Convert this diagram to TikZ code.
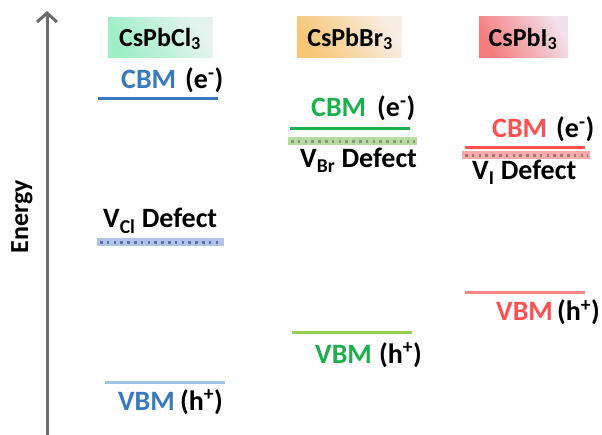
\documentclass[tikz,border=0pt]{standalone}
\usepackage{fontspec}
\setmainfont{Carlito}
\usetikzlibrary{arrows.meta}
\definecolor{axgray}{HTML}{6B6B6B}
\definecolor{bluec}{HTML}{3A78C0}
\definecolor{bluev}{HTML}{9DC3E6}
\definecolor{blueband}{HTML}{AFC4E8}
\definecolor{bluedot}{HTML}{5573B0}
\definecolor{greenc}{HTML}{1CB04C}
\definecolor{greenv}{HTML}{92D050}
\definecolor{greenband}{HTML}{B8D9A0}
\definecolor{greendot}{HTML}{7F9C78}
\definecolor{redc}{HTML}{FF4F4F}
\definecolor{redv}{HTML}{FF8585}
\definecolor{redband}{HTML}{F8ABAB}
\definecolor{reddot}{HTML}{A07878}
\definecolor{mintA}{HTML}{9EEFC6}
\definecolor{mintB}{HTML}{E6F4F0}
\definecolor{orA}{HTML}{F8C677}
\definecolor{orB}{HTML}{F8EEE4}
\definecolor{salA}{HTML}{F47C7C}
\definecolor{salB}{HTML}{F2E0EA}
\tikzset{
  lbl/.style={anchor=base west, inner sep=0pt, font=\fontsize{28}{32}\selectfont\bfseries},
  ttl/.style={inner sep=0pt, font=\fontsize{26}{30}\selectfont\bfseries},
  lvl/.style={line width=3pt},
  dots/.style={line width=2.6pt, dash pattern=on 2.6pt off 4.2pt}
}
\begin{document}
\begin{tikzpicture}[x=1pt,y=-1pt]
\useasboundingbox (0,0) rectangle (602,435);
% axis
\coordinate (axb) at (47,435);
\coordinate (axt) at (47,11);
\draw[axgray, line width=3pt, -{Straight Barb[length=9pt,width=20pt,line width=3pt]}] (axb) -- (axt);
\node[ttl, rotate=90] (energy) at (22,217) {Energy};

% title boxes
\shade[left color=mintA, right color=mintB, shading angle=120] (108,18) rectangle (213,58);
\node[ttl] (t1) at (160,39) {CsPbCl\textsubscript{3}};
\shade[left color=orA, right color=orB, shading angle=120] (297,17) rectangle (402,58);
\node[ttl] (t2) at (350,39) {CsPbBr\textsubscript{3}};
\shade[left color=salA, right color=salB, shading angle=120] (479,17) rectangle (568,58);
\node[ttl] (t3) at (523,39) {CsPbI\textsubscript{3}};

% column 1
\coordinate (c1a) at (98,99); \coordinate (c1b) at (218,99);
\draw[lvl, bluec] (c1a) -- (c1b);
\node[lbl, text=bluec] (cbm1) at (121,89) {CBM};
\node[lbl] (e1) at (185,89) {(e\textsuperscript{-})};
\node[lbl] (d1) at (103,228) {V\textsubscript{Cl} Defect};
\fill[blueband] (97,238.5) rectangle (224,246.5);
\coordinate (d1a) at (100,242.5); \coordinate (d1b) at (222,242.5);
\draw[dots, bluedot] (d1a) -- (d1b);
\coordinate (v1a) at (105,382); \coordinate (v1b) at (225,382);
\draw[lvl, bluev] (v1a) -- (v1b);
\node[lbl, text=bluec] (vbm1) at (118,410) {VBM};
\node[lbl] (h1) at (180,410) {(h\textsuperscript{+})};

% column 2
\node[lbl, text=greenc] (cbm2) at (311,117) {CBM};
\node[lbl] (e2) at (377,117) {(e\textsuperscript{-})};
\coordinate (c2a) at (290,129); \coordinate (c2b) at (410,129);
\draw[lvl, greenc] (c2a) -- (c2b);
\fill[greenband] (288,137.5) rectangle (417,145.5);
\coordinate (d2a) at (291,141.5); \coordinate (d2b) at (415,141.5);
\draw[dots, greendot] (d2a) -- (d2b);
\node[lbl] (d2) at (300,168) {V\textsubscript{Br} Defect};
\coordinate (v2a) at (292,333); \coordinate (v2b) at (412,333);
\draw[lvl, greenv] (v2a) -- (v2b);
\node[lbl, text=greenc] (vbm2) at (315,363) {VBM};
\node[lbl] (h2) at (379,363) {(h\textsuperscript{+})};

% column 3
\node[lbl, text=redc] (cbm3) at (492,138) {CBM};
\node[lbl] (e3) at (556,138) {(e\textsuperscript{-})};
\coordinate (c3a) at (465,148); \coordinate (c3b) at (585,148);
\draw[lvl, redc] (c3a) -- (c3b);
\fill[redband] (462,151.5) rectangle (590,159.5);
\coordinate (d3a) at (465,155.5); \coordinate (d3b) at (588,155.5);
\draw[dots, reddot] (d3a) -- (d3b);
\node[lbl] (d3) at (472,180) {V\textsubscript{I} Defect};
\coordinate (v3a) at (465,293); \coordinate (v3b) at (585,293);
\draw[lvl, redv] (v3a) -- (v3b);
\node[lbl, text=redc] (vbm3) at (496,321) {VBM};
\node[lbl] (h3) at (557,321) {(h\textsuperscript{+})};
\end{tikzpicture}
\end{document}
